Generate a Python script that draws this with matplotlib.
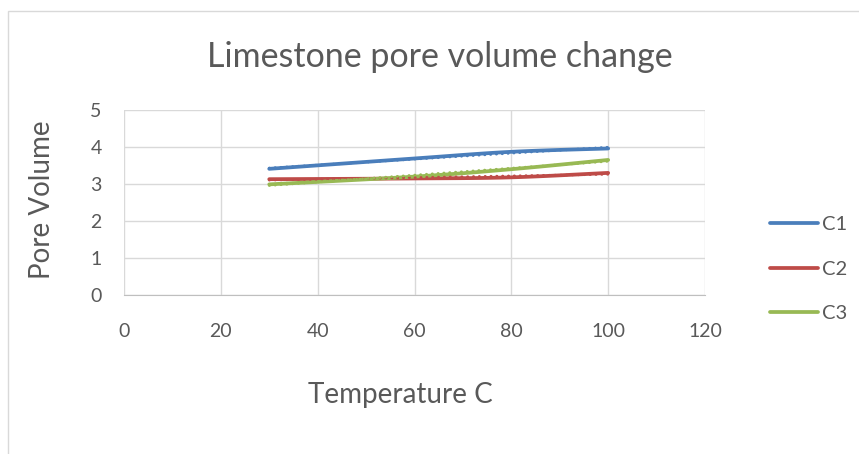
import numpy as np
import matplotlib
matplotlib.use("Agg")
import matplotlib.pyplot as plt
from matplotlib.patches import Rectangle

# temperature (C) and pore volume readings per core
temperature = [30, 60, 80, 100]
c1 = [3.41, 3.69, 3.87, 3.96]
c2 = [3.13, 3.15, 3.18, 3.30]
c3 = [2.99, 3.20, 3.40, 3.65]

series_names = ["C1", "C2", "C3"]
series_colors = ["#4a7ebb", "#be4b48", "#98b954"]

plt.rcParams['font.family'] = ['Lato', 'DejaVu Sans']
text_color = "#595959"


def smooth(x, y, n=40):
    # Catmull-Rom style bezier, like a spreadsheet "smoothed line"
    x = np.asarray(x, float)
    y = np.asarray(y, float)
    pts = np.column_stack([x, y])
    out = []
    for i in range(len(pts) - 1):
        p0 = pts[max(i - 1, 0)]
        p1 = pts[i]
        p2 = pts[i + 1]
        p3 = pts[min(i + 2, len(pts) - 1)]
        b1 = p1 + (p2 - p0) / 6
        b2 = p2 - (p3 - p1) / 6
        t = np.linspace(0, 1, n)[:, None]
        seg = ((1 - t) ** 3) * p1 + 3 * ((1 - t) ** 2) * t * b1 + 3 * (1 - t) * t ** 2 * b2 + t ** 3 * p2
        out.append(seg)
    seg = np.vstack(out)
    return seg[:, 0], seg[:, 1]


fig = plt.figure(figsize=(8.59, 4.54), dpi=100)
ax = fig.add_axes([124 / 859, 1 - 295 / 454, (705 - 124) / 859, (295 - 110) / 454])

# chart frame
fig.patches.append(Rectangle((8 / 859, -0.1), 1.2, 1 - 11 / 454 + 0.1, transform=fig.transFigure,
                             fill=False, edgecolor="#d9d9d9", linewidth=1.0))

handles = []
for vals, name, col in zip([c1, c2, c3], series_names, series_colors):
    xs, ys = smooth(temperature, vals)
    h, = ax.plot(xs, ys, color=col, linewidth=2.7, solid_capstyle="round", label=name, zorder=3)
    handles.append(h)
    # linear trendline, dotted
    coef = np.polyfit(temperature, vals, 1)
    tx = np.linspace(temperature[0], temperature[-1], 100)
    ax.plot(tx, np.polyval(coef, tx), color=col, linewidth=2.0, linestyle=(0, (0.1, 2.0)),
            dash_capstyle="round", zorder=4)

ax.set_xlim(0, 120)
ax.set_ylim(0, 5)
ax.set_xticks(range(0, 121, 20))
ax.set_yticks(range(0, 6))
ax.grid(True, color="#d9d9d9", linewidth=1.0)
ax.set_axisbelow(True)
for s in ["top", "right", "left"]:
    ax.spines[s].set_visible(False)
ax.spines["bottom"].set_color("#bfbfbf")
ax.tick_params(length=0, labelsize=14, colors=text_color)
ax.tick_params(axis="x", pad=20)
ax.tick_params(axis="y", pad=16)
for lab in ax.get_xticklabels() + ax.get_yticklabels():
    lab.set_color(text_color)

fig.text(440 / 859, 1 - 57 / 454, "Limestone pore volume change", ha="center", va="center",
         fontsize=24.5, color=text_color)
fig.text(400 / 859, 1 - 395 / 454, "Temperature C", ha="center", va="center",
         fontsize=20, color=text_color)
fig.text(42 / 859, 1 - 200 / 454, "Pore Volume", ha="center", va="center", rotation=90,
         fontsize=20, color=text_color)

leg = fig.legend(handles=handles, loc="center left", bbox_to_anchor=(752 / 859, 1 - 269 / 454),
                 frameon=False, fontsize=14.5, handlelength=2.4, labelspacing=1.35, handletextpad=0.2)
for t in leg.get_texts():
    t.set_color(text_color)

fig.savefig("out.png", dpi=100)
